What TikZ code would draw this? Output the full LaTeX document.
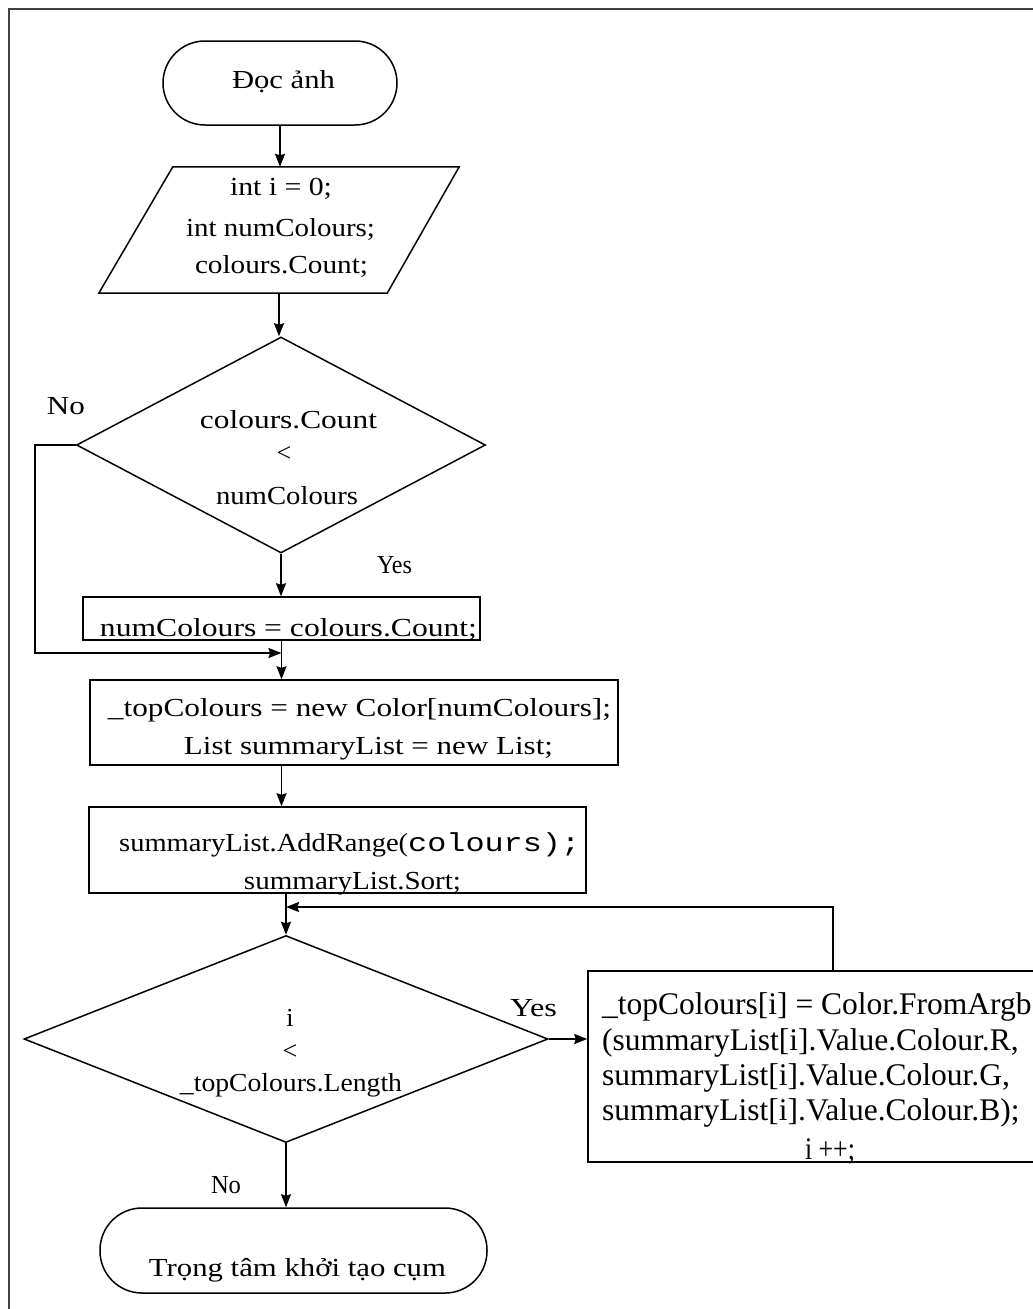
\documentclass[tikz,border=0pt]{standalone}
\usepackage{fontspec}
\setmainfont{Liberation Serif}
\setmonofont{Liberation Mono}
\usepackage{graphicx}
\usetikzlibrary{shapes.geometric,arrows.meta}
% squeeze or stretch a line of text to a given width (in pt), keeping its height
\newcommand{\tx}[2]{\resizebox{#1pt}{\height}{#2}}

\tikzset{
  flow/.style={draw, line width=1.5pt, inner sep=0pt},
  term/.style={flow, rectangle, rounded corners=42pt},
  procbox/.style={flow, rectangle},
  decision/.style={flow, diamond},
  txt/.style={inner sep=0pt, font=\fontsize{26}{30}\selectfont, text height=17pt, text depth=5pt},
  bigtxt/.style={inner sep=0pt, font=\fontsize{31.5}{33}\selectfont, text height=21pt, text depth=7pt},
  wire/.style={line width=1.5pt},
  conn/.style={line width=1.5pt, -{Stealth[length=13pt,width=10pt,inset=1.5pt]}},
}

\begin{document}
\begin{tikzpicture}[x=1pt, y=-1pt]
\clip (0,0) rectangle (1033,1309);
\fill[white] (0,0) rectangle (1033,1309);

% outer frame
\draw[line width=1.8pt, black!75] (9,1320) -- (9,9) -- (1045,9);

% ---- shapes ----
\node[term, minimum width=234pt, minimum height=84pt] (start) at (280,83) {};
\node[inner sep=0pt, minimum width=360pt, minimum height=126pt] (io) at (279,230) {};
\draw[wire] ([xshift=74pt]io.north west) -- (io.north east)
   -- ([xshift=-72pt]io.south east) -- (io.south west) -- cycle;
\node[decision, minimum width=409pt, minimum height=216pt] (d1) at (281,445) {};
\node[procbox, minimum width=397pt, minimum height=43pt] (box1) at (281.5,618.5) {};
\node[procbox, minimum width=528pt, minimum height=85pt] (box2) at (354,722.5) {};
\node[procbox, minimum width=497pt, minimum height=86pt] (box3) at (337.5,850) {};
\node[decision, minimum width=524pt, minimum height=207pt] (d2) at (286,1039) {};
\node[procbox, minimum width=490pt, minimum height=191pt] (rbox) at (833,1066.5) {};
\node[term, minimum width=387pt, minimum height=85pt] (end) at (293.5,1250.5) {};

% ---- texts ----
\node[txt] (tstart) at (283.5,82) {\tx{103}{Đọc ảnh}};
\node[txt] (tio1) at (281,189) {\tx{102}{int i = 0;}};
\node[txt] (tio2) at (280.5,230) {\tx{189}{int numColours;}};
\node[txt] (tio3) at (281.5,267) {\tx{173}{colours.Count;}};
\node[txt] (td1a) at (288.5,422) {\tx{177}{colours.Count}};
\node[txt] (td1b) at (284,455) {<};
\node[txt] (td1c) at (287,498) {\tx{142}{numColours}};
\node[txt] (lno1) at (66,408) {\tx{38}{No}};
\node[txt] (lyes1) at (394.5,567) {\tx{35}{Yes}};
\node[txt] (tbox1) at (288.5,630) {\tx{377}{numColours = colours.Count;}};
\node[txt] (tbox2a) at (359.5,710) {\tx{503}{\_topColours = new Color[numColours];}};
\node[txt] (tbox2b) at (368.5,748) {\tx{369}{List summaryList = new List;}};
\node[txt, anchor=west] (tbox3a) at (119,845)
  {\tx{289}{summaryList.AddRange(}\tx{172}{\ttfamily colours);}};
\node[txt] (tbox3b) at (352.5,883) {\tx{217}{summaryList.Sort;}};
\node[txt] (td2a) at (290,1020) {i};
\node[txt] (td2b) at (290,1053) {<};
\node[txt] (td2c) at (291,1085) {\tx{222}{\_topColours.Length}};
\node[txt] (lyes2) at (533.5,1010) {\tx{47}{Yes}};
\node[txt] (lno2) at (226,1187) {\tx{30}{No}};
\node[txt] (tend) at (297.5,1270) {\tx{297}{Trọng tâm khởi tạo cụm}};
\node[bigtxt, anchor=west] (tr1) at (602,1007) {\_topColours[i] = Color.FromArgb};
\node[bigtxt, anchor=west] (tr2) at (602,1043) {(summaryList[i].Value.Colour.R,};
\node[bigtxt, anchor=west] (tr3) at (602,1078) {summaryList[i].Value.Colour.G,};
\node[bigtxt, anchor=west] (tr4) at (602,1113) {summaryList[i].Value.Colour.B);};
\node[bigtxt] (tr5) at (830,1152) {\tx{50}{i ++;}};

% ---- connectors ----
\coordinate (join) at (281.5,653);
\coordinate (merge) at (286,907);
\draw[conn] (start.south) -- (start.south |- io.north);
\draw[conn] (io.south) -- (io.south |- d1.north);
\draw[conn] (d1.south) -- (d1.south |- box1.north);
\draw[conn] (d1.west) -- ++(-41,0) |- (join);
\draw[conn] (box1.south) -- (box1.south |- box2.north);
\draw[conn] (box1.south |- box2.south) -- (box1.south |- box3.north);
\draw[conn] (d2.north |- box3.south) -- (d2.north);
\draw[conn] (rbox.north) |- (merge);
\draw[conn] (d2.east) -- (d2.east -| rbox.west);
\draw[conn] (d2.south) -- (d2.south |- end.north);
\end{tikzpicture}
\end{document}
